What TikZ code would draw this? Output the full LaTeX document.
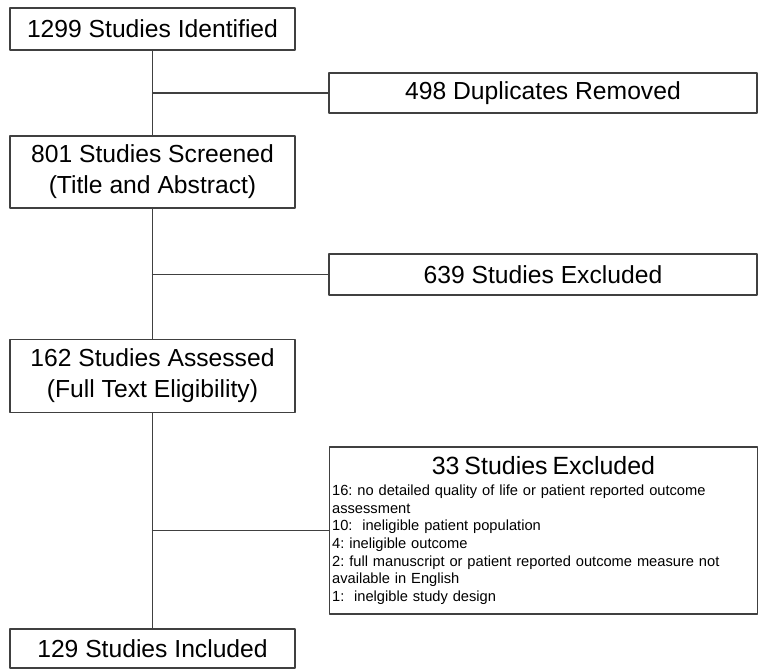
\documentclass[tikz,border=0pt]{standalone}
\usepackage{fontspec}
\setmainfont{Liberation Sans}
\frenchspacing
\begin{document}
\begin{tikzpicture}[x=.75pt,y=-.75pt,line join=round,line cap=round,
	font=\fontsize{18.5}{23.2}\selectfont,
	box/.style={draw=black!75,line width=.9pt,inner sep=2pt,align=center,minimum width=213.75pt},
	side/.style={box,minimum width=321pt},
	link/.style={draw=black!75,line width=.9pt}]
	\useasboundingbox (0,0) rectangle (758,669);
	\node[box,minimum height=31.5pt] (idf) at (152.5,29) {1299 Studies Identified};
	\node[side,minimum height=30pt] (dup) at (543,93) {498 Duplicates Removed};
	\node[box,minimum height=54pt] (scr) at (152.5,172) {801 Studies Screened\\(Title and Abstract)};
	\node[side,minimum height=30.75pt] (exa) at (543,274.5) {639 Studies Excluded};
	\node[box,minimum height=54.75pt] (ass) at (152.5,376) {162 Studies Assessed\\(Full Text Eligibility)};
	\node[side,minimum height=125.25pt,text width=317pt,align=left,font=\fontsize{11}{13.3}\selectfont] (exb) at (543.5,530.5)
		{\makebox[\hsize][c]{\fontsize{18.7}{20}\selectfont 33 Studies Excluded}\\[2.4pt]
		16: no detailed quality of life or patient reported outcome\\
		assessment\\
		10:~ ineligible patient population\\
		4: ineligible outcome\\
		2: full manuscript or patient reported outcome measure not\\
		available in English\\
		1:~ inelgible study design};
	\node[box,minimum height=29.25pt] (inc) at (152.5,648.5) {129 Studies Included};
	% trunk and side branches
	\draw[link] (idf)--(scr) (scr)--(ass) (ass)--(inc);
	\foreach \b in {dup,exa,exb}
		\draw[link] (idf.south |- \b.west)--(\b.west);
\end{tikzpicture}
\end{document}
